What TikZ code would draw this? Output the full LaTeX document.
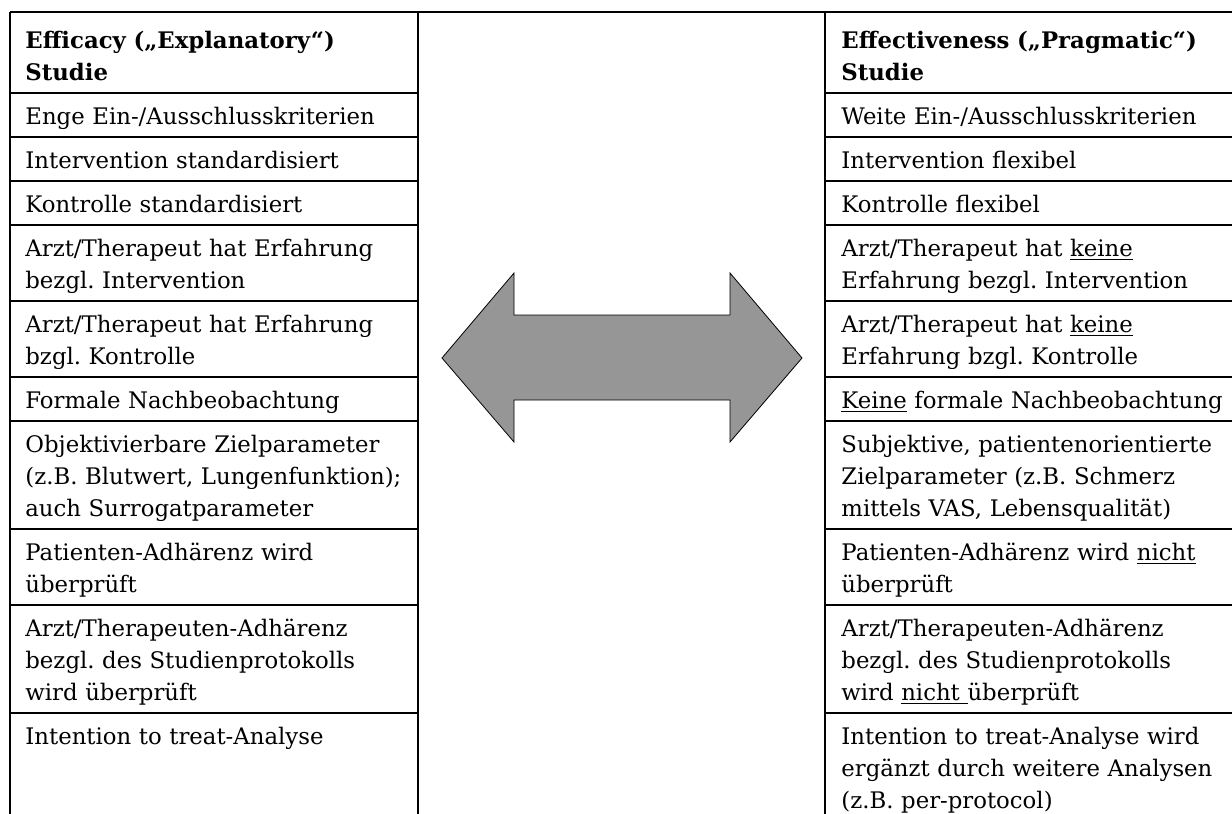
\documentclass[tikz,border=0pt]{standalone}
\usepackage{fontspec}
\setmainfont{DejaVu Serif}
\usepackage{tikz}
\frenchspacing
\definecolor{arrowgray}{RGB}{150,150,150}
\tikzset{
  cell/.style={anchor=base west,inner sep=0pt,text width=200pt,align=left,font=\fontsize{11.4}{16}\selectfont},
  headcell/.style={cell,font=\fontsize{11.4}{16}\selectfont\bfseries},
  gridline/.style={line width=0.75pt}
}

\begin{document}
\begin{tikzpicture}[x=0.5pt,y=-0.5pt]
\useasboundingbox (0,0) rectangle (1232,814);
% table frame
\draw[gridline] (10,12)--(1232,12);
\foreach \vx in {10,418,825}{\draw[gridline] (\vx,12)--(\vx,814);}
\foreach \ry in {93,137,181,225,301,377,421,529,605,713}{
  \draw[gridline] (10,\ry)--(418,\ry);
  \draw[gridline] (825,\ry)--(1232,\ry);
}
% efficacy column
\node[headcell] (lhead) at (25,48) {Efficacy („Explanatory“)\\Studie};
\node[cell] (l1) at (25,124) {Enge Ein-/Ausschlusskriterien};
\node[cell] (l2) at (25,168) {Intervention standardisiert};
\node[cell] (l3) at (25,212) {Kontrolle standardisiert};
\node[cell] (l4) at (25,256) {Arzt/Therapeut hat Erfahrung\\bezgl. Intervention};
\node[cell] (l5) at (25,332) {Arzt/Therapeut hat Erfahrung\\bzgl. Kontrolle};
\node[cell] (l6) at (25,408) {Formale Nachbeobachtung};
\node[cell] (l7) at (25,452) {Objektivierbare Zielparameter\\(z.B. Blutwert, Lungenfunktion);\\auch Surrogatparameter};
\node[cell] (l8) at (25,560) {Patienten-Adhärenz wird\\überprüft};
\node[cell] (l9) at (25,636) {Arzt/Therapeuten-Adhärenz\\bezgl. des Studienprotokolls\\wird überprüft};
\node[cell] (l10) at (25,744) {Intention to treat-Analyse};
% effectiveness column
\node[headcell] (rhead) at (841,48) {Effectiveness („Pragmatic“)\\Studie};
\node[cell] (r1) at (841,124) {Weite Ein-/Ausschlusskriterien};
\node[cell] (r2) at (841,168) {Intervention flexibel};
\node[cell] (r3) at (841,212) {Kontrolle flexibel};
\node[cell] (r4) at (841,256) {Arzt/Therapeut hat \underline{keine}\\Erfahrung bezgl. Intervention};
\node[cell] (r5) at (841,332) {Arzt/Therapeut hat \underline{keine}\\Erfahrung bzgl. Kontrolle};
\node[cell] (r6) at (841,408) {\underline{Keine} formale Nachbeobachtung};
\node[cell] (r7) at (841,452) {Subjektive, patientenorientierte\\Zielparameter (z.B. Schmerz\\mittels VAS, Lebensqualität)};
\node[cell] (r8) at (841,560) {Patienten-Adhärenz wird \underline{nicht}\\überprüft};
\node[cell] (r9) at (841,636) {Arzt/Therapeuten-Adhärenz\\bezgl. des Studienprotokolls\\wird \underline{nicht\ }überprüft};
\node[cell] (r10) at (841,744) {Intention to treat-Analyse wird\\ergänzt durch weitere Analysen\\(z.B. per-protocol)};
% double arrow
\draw[line width=0.4pt,fill=arrowgray] (442,358)--(514,273)--(514,315)--(730,315)--(730,273)--(802,358)
  --(730,442)--(730,400)--(514,400)--(514,442)--cycle;
\end{tikzpicture}
\end{document}
